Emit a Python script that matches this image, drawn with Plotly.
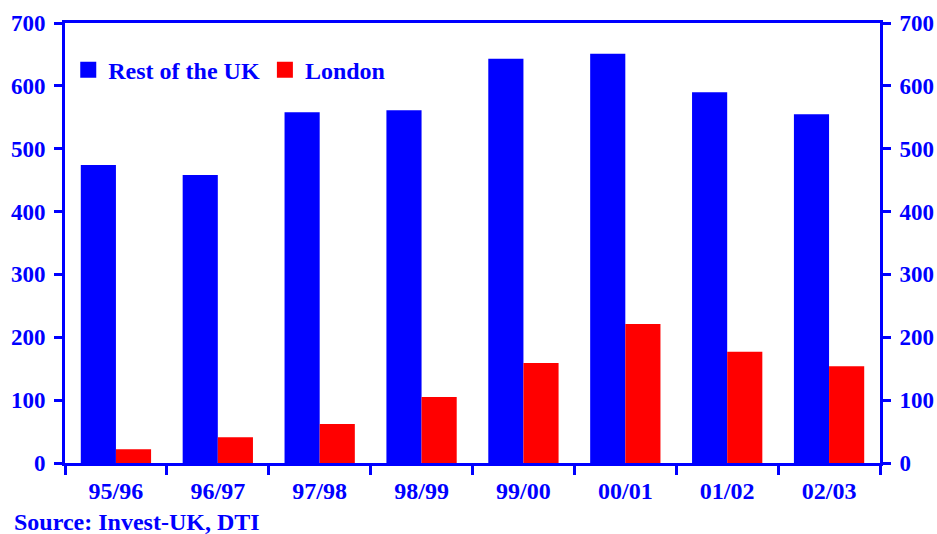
import plotly.graph_objects as go

categories = ["95/96", "96/97", "97/98", "98/99", "99/00", "00/01", "01/02", "02/03"]
rest_of_uk = [474, 458, 558, 561, 643, 651, 590, 555]
london = [22, 41, 62, 105, 159, 221, 177, 154]
y_ticks = [0, 100, 200, 300, 400, 500, 600, 700]
series_names = ["Rest of the UK", "London"]

BLUE = "#0000FF"
RED = "#FF0000"
FONT = dict(family="Liberation Serif, Times New Roman, serif", color=BLUE, size=24, weight="bold")
YFONT = dict(FONT, size=23)

fig = go.Figure()
fig.add_trace(go.Bar(x=categories, y=rest_of_uk, name=series_names[0], showlegend=False,
                     marker=dict(color=BLUE, line=dict(width=0))))
fig.add_trace(go.Bar(x=categories, y=london, name=series_names[1], showlegend=False,
                     marker=dict(color=RED, line=dict(width=0))))
# legend entries with larger square swatches
for nm, col in zip(series_names, [BLUE, RED]):
    fig.add_trace(go.Scatter(x=[None], y=[None], mode="markers", name=nm,
                             marker=dict(symbol="square", size=16, color=col, line=dict(width=0))))
# invisible helper so the right-hand axis renders
fig.add_trace(go.Scatter(x=categories, y=rest_of_uk, yaxis="y2", mode="markers",
                         marker=dict(opacity=0), showlegend=False, hoverinfo="skip"))

axis_common = dict(range=[0, 700], tickvals=y_ticks, showgrid=False, zeroline=False,
                   ticks="outside", ticklen=8, tickwidth=3, tickcolor=BLUE, automargin=False,
                   showline=True, linecolor=BLUE, linewidth=3, tickfont=YFONT, fixedrange=True)

fig.update_layout(
    width=937, height=534,
    margin=dict(l=65, r=57, t=23, b=71, autoexpand=False),
    paper_bgcolor="white", plot_bgcolor="white",
    barmode="group", bargap=0.31, bargroupgap=0,
    font=FONT,
    xaxis=dict(type="category", showline=True, linecolor=BLUE, linewidth=3, mirror=True,
               ticks="outside", tickson="boundaries", ticklen=9, tickwidth=3, tickcolor=BLUE,
               tickfont=FONT, showgrid=False, zeroline=False, automargin=False,
               ticklabelstandoff=4),
    yaxis=dict(side="left", ticklabelstandoff=4, **axis_common),
    yaxis2=dict(side="right", overlaying="y", ticklabelstandoff=4, **axis_common),
    legend=dict(orientation="h", x=0.004, y=0.893, xanchor="left", yanchor="middle",
                font=FONT, bgcolor="rgba(0,0,0,0)",
                traceorder="normal", tracegroupgap=0),
    showlegend=True,
)

fig.add_annotation(text="Source: Invest-UK, DTI", xref="paper", yref="paper",
                   x=-0.065, y=-0.135, xanchor="left", yanchor="middle",
                   showarrow=False, font=FONT)

fig.write_html("out.html")
